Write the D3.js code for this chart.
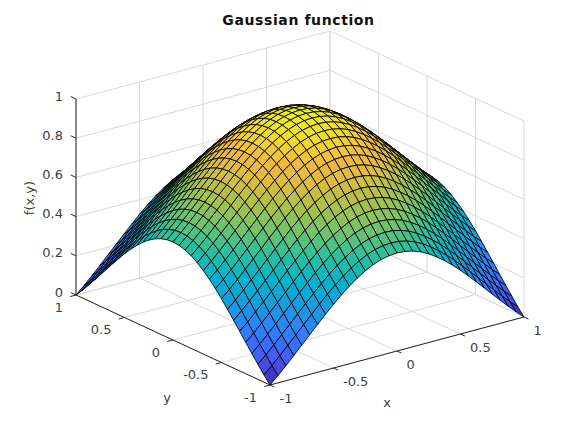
<!DOCTYPE html>
<html><head><meta charset="utf-8">
<script src="https://cdnjs.cloudflare.com/ajax/libs/d3/7.8.5/d3.min.js"></script>
<style>html,body{margin:0;background:#fff}svg{display:block}text{font-family:"DejaVu Sans",sans-serif}</style>
</head><body><svg id="c" width="577" height="433"></svg>
<script>
const titleText="Gaussian function", xLabel="x", yLabel="y", zLabel="f(x,y)";
const xTicks=[-1,-0.5,0,0.5,1], yTicks=[-1,-0.5,0,0.5,1], zTicks=[0,0.2,0.4,0.6,0.8,1];
const colorStops=[0,.1,.2,.3,.4,.5,.6,.7,.78,.85,.92,1];
const colorValues=["#3e26a8","#4758f8","#317dfe","#1d99e1","#02b2cd","#27bfa0","#74c26c","#b0c048","#dcbc40","#f2b840","#f0d82c","#f2ee1e"];
// heights read for one quadrant of the surface (centre to edge, 17 x 17 nodes)
const zQuadrant=[
[1.000,.997,.988,.973,.952,.926,.896,.862,.825,.785,.744,.702,.660,.618,.577,.537,.500],
[.997,.994,.985,.970,.949,.923,.893,.859,.822,.782,.741,.699,.657,.615,.574,.534,.497],
[.988,.985,.976,.961,.940,.914,.884,.850,.813,.773,.732,.690,.648,.606,.565,.525,.488],
[.973,.970,.961,.946,.925,.899,.869,.835,.798,.758,.717,.675,.633,.591,.550,.510,.473],
[.952,.949,.940,.925,.904,.878,.848,.814,.777,.737,.696,.654,.612,.570,.529,.489,.452],
[.926,.923,.914,.899,.878,.852,.822,.788,.751,.711,.670,.628,.586,.544,.503,.463,.426],
[.896,.893,.884,.869,.848,.822,.792,.758,.721,.681,.640,.598,.556,.514,.473,.433,.396],
[.862,.859,.850,.835,.814,.788,.758,.724,.687,.647,.606,.564,.522,.480,.439,.399,.362],
[.825,.822,.813,.798,.777,.751,.721,.687,.650,.610,.569,.527,.485,.443,.402,.362,.325],
[.785,.782,.773,.758,.737,.711,.681,.647,.610,.570,.529,.487,.445,.403,.362,.322,.285],
[.744,.741,.732,.717,.696,.670,.640,.606,.569,.529,.488,.446,.404,.362,.321,.281,.244],
[.702,.699,.690,.675,.654,.628,.598,.564,.527,.487,.446,.404,.362,.320,.279,.239,.202],
[.660,.657,.648,.633,.612,.586,.556,.522,.485,.445,.404,.362,.320,.278,.237,.197,.160],
[.618,.615,.606,.591,.570,.544,.514,.480,.443,.403,.362,.320,.278,.236,.195,.155,.118],
[.577,.574,.565,.550,.529,.503,.473,.439,.402,.362,.321,.279,.237,.195,.154,.114,.077],
[.537,.534,.525,.510,.489,.463,.433,.399,.362,.322,.281,.239,.197,.155,.114,.074,.037],
[.500,.497,.488,.473,.452,.426,.396,.362,.325,.285,.244,.202,.160,.118,.077,.037,0]
];
const m=zQuadrant.length-1,n=2*m;
const Z=d3.range(n+1).map(j=>d3.range(n+1).map(i=>zQuadrant[Math.abs(j-m)][Math.abs(i-m)]));
const sx=d3.scaleLinear().domain([-1,1]).range([-1,1]);
const sz=d3.scaleLinear().domain([0,1]).range([0,1]);
const P=(x,y,z)=>[300+127*sx(x)-97*sx(y), 306-34*sx(x)-45*sx(y)-196*sz(z)];
const color=d3.scaleLinear().domain(colorStops).range(colorValues).clamp(true);
const svg=d3.select("#c");
const line=(a,b,st,w)=>svg.append("line").attr("x1",a[0]).attr("y1",a[1]).attr("x2",b[0]).attr("y2",b[1]).attr("stroke",st).attr("stroke-width",w);
const G="#d9d9d9",A="#262626";
xTicks.forEach(t=>{line(P(t,1,0),P(t,1,1),G,1);line(P(t,-1,0),P(t,1,0),G,1);});
yTicks.forEach(t=>{line(P(1,t,0),P(1,t,1),G,1);line(P(-1,t,0),P(1,t,0),G,1);});
zTicks.forEach(t=>{line(P(-1,1,t),P(1,1,t),G,1);line(P(1,1,t),P(1,-1,t),G,1);});
line(P(-1,1,0),P(-1,1,1),A,1);line(P(-1,1,0),P(-1,-1,0),A,1);line(P(-1,-1,0),P(1,-1,0),A,1);
const T=.045;
xTicks.forEach(t=>line(P(t,-1,0),P(t,-1-T,0),A,1));
yTicks.forEach(t=>line(P(-1,t,0),P(-1-T,t,0),A,1));
zTicks.forEach(t=>line(P(-1,1,t),P(-1,1+T*1.2,t),A,1));
const cells=[];
const c=i=>-1+2*i/n;
for(let j=0;j<n;j++)for(let i=0;i<n;i++){
 const q=[[i,j],[i+1,j],[i+1,j+1],[i,j+1]];
 cells.push({d:-(c(i+.5))-(c(j+.5)),pts:q.map(([a,b])=>P(c(a),c(b),Z[b][a])),z:d3.mean(q,([a,b])=>Z[b][a])});
}
cells.sort((a,b)=>a.d-b.d);
svg.append("g").selectAll("path").data(cells).join("path")
 .attr("d",d=>"M"+d.pts.map(p=>p.join(",")).join("L")+"Z")
 .attr("fill",d=>color(d.z)).attr("stroke","#000").attr("stroke-width",.85).attr("stroke-linejoin","round");
const lab=(p,s,dx,dy,anc,size,col)=>svg.append("text").attr("x",p[0]+dx).attr("y",p[1]+dy).attr("text-anchor",anc||"middle").attr("dominant-baseline","central").attr("font-size",size||13).attr("fill",col||"#404040").text(s);
xTicks.forEach(t=>lab(P(t,-1,0),t,9.5,13,"start"));
yTicks.forEach(t=>lab(P(-1,t,0),t,-13,12,"end"));
zTicks.forEach(t=>lab(P(-1,1,t),t,-13,-3,"end"));
lab(P(0,-1,0),xLabel,-10,51);
lab(P(-1,0,0),yLabel,-6,57);
svg.append("text").attr("transform","translate(29,198) rotate(-90)").attr("text-anchor","middle").attr("dominant-baseline","central").attr("font-size",13).attr("fill","#404040").text(zLabel);
svg.append("text").attr("x",298.5).attr("y",20).attr("text-anchor","middle").attr("dominant-baseline","central").attr("font-size",14).attr("letter-spacing",.6).attr("font-weight","bold").attr("fill","#111").text(titleText);
</script></body></html>
